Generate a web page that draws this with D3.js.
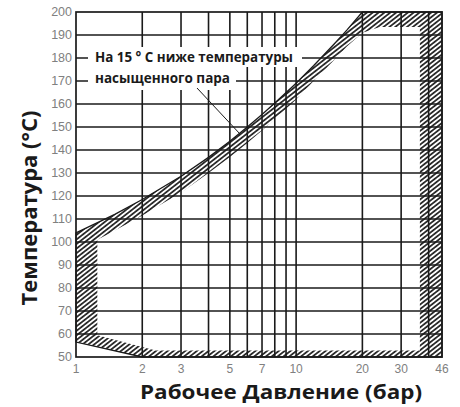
<!DOCTYPE html>
<html>
<head>
<meta charset="utf-8">
<script src="https://cdn.jsdelivr.net/npm/d3@7"></script>
<style>
  body { margin: 0; background: #fff; }
  svg text { font-family: "Liberation Sans", Arial, sans-serif; }
</style>
</head>
<body>
<svg id="chart" width="460" height="407"></svg>
<script>
// data
var xTicks = [1, 2, 3, 5, 7, 10, 20, 30, 46]
var xGrid = [2, 3, 4, 5, 6, 7, 8, 9, 10, 20, 30, 40]
var yTicks = d3.range(50, 201, 10)

// 15 C below saturated steam temperature (upper edge of band)
var curvePressure = [1, 1.5, 2, 3, 4, 5, 6, 7, 8, 10, 12, 15, 17, 20]
var curveTemp = [104, 112, 118.5, 128.6, 136.8, 143.8, 150, 155.4, 160.4, 169, 176.6, 186.4, 192.1, 200]

// inner edge of the hatched band
var innerPressure = [1.25, 1.5, 2, 3, 4, 5, 6, 7, 8, 10, 12, 15, 17, 20, 24]
var innerTemp = [101, 105, 111.5, 121.5, 130, 137, 143, 148.5, 153.5, 162, 170, 179.5, 185, 191, 193.5]

// rest of the working area boundary
var outerRest = [[46, 200], [46, 50], [2, 50], [1, 56.5]]
var innerRest = [[36.5, 193.5], [36.5, 52.8], [2.3, 52.8], [1.25, 59.5]]

var svg = d3.select("#chart")
var x = d3.scaleLog().domain([1, 46]).range([76, 442])
var y = d3.scaleLinear().domain([50, 200]).range([357, 12])
var ink = "#1a1a1a"

var defs = svg.append("defs")
var pat = defs.append("pattern")
    .attr("id", "hatch")
    .attr("patternUnits", "userSpaceOnUse")
    .attr("width", 4)
    .attr("height", 3.6)
    .attr("patternTransform", "rotate(-38)")
pat.append("rect")
    .attr("x", 0).attr("y", 1).attr("width", 4).attr("height", 1.6)
    .attr("fill", "#111")

var line = d3.line().x(function(d) { return x(d[0]) }).y(function(d) { return y(d[1]) })

var outerPts = curvePressure.map(function(p, i) { return [p, curveTemp[i]] }).concat(outerRest)
var innerPts = innerPressure.map(function(p, i) { return [p, innerTemp[i]] }).concat(innerRest)

// hatched band = outer minus inner
svg.append("path")
    .attr("d", line(outerPts) + "Z" + line(innerPts) + "Z")
    .attr("fill", "url(#hatch)")
    .attr("fill-rule", "evenodd")

// grid
svg.selectAll(".hgrid")
  .data(yTicks.slice(1, -1))
  .enter().append("line")
    .attr("x1", 76).attr("x2", 442)
    .attr("y1", function(d) { return y(d) })
    .attr("y2", function(d) { return y(d) })
    .attr("stroke", ink).attr("stroke-width", 1.6)

svg.selectAll(".vgrid")
  .data(xGrid)
  .enter().append("line")
    .attr("y1", 12).attr("y2", 357)
    .attr("x1", function(d) { return x(d) })
    .attr("x2", function(d) { return x(d) })
    .attr("stroke", ink).attr("stroke-width", 1.6)

// band edge
svg.append("path")
    .attr("d", line(outerPts) + "Z")
    .attr("fill", "none")
    .attr("stroke", ink).attr("stroke-width", 1.3)

svg.append("rect")
    .attr("x", 76).attr("y", 12)
    .attr("width", 366).attr("height", 345)
    .attr("fill", "none")
    .attr("stroke", ink).attr("stroke-width", 1.7)

// annotation with white background
svg.append("rect").attr("x", 88).attr("y", 47).attr("width", 214).attr("height", 20).attr("fill", "#fff")
svg.append("rect").attr("x", 88).attr("y", 67).attr("width", 148).attr("height", 23).attr("fill", "#fff")

svg.append("line")
    .attr("x1", 197).attr("y1", 88)
    .attr("x2", 240).attr("y2", 134)
    .attr("stroke", ink).attr("stroke-width", 1)

svg.append("text")
    .attr("x", 95).attr("y", 62)
    .attr("font-size", "14px")
    .attr("font-weight", "bold")
    .attr("textLength", 198)
    .attr("lengthAdjust", "spacingAndGlyphs")
    .style("font-family", "'Open Sans', sans-serif")
    .attr("fill", ink)
    .text("На 15 ° С ниже температуры")

svg.append("text")
    .attr("x", 95).attr("y", 83)
    .attr("font-size", "14px")
    .attr("font-weight", "bold")
    .attr("textLength", 135)
    .attr("lengthAdjust", "spacingAndGlyphs")
    .style("font-family", "'Open Sans', sans-serif")
    .attr("fill", ink)
    .text("насыщенного пара")

// tick labels
svg.selectAll(".ylab")
  .data(yTicks)
  .enter().append("text")
    .attr("x", 72)
    .attr("y", function(d) { return y(d) + 4 })
    .attr("text-anchor", "end")
    .attr("font-size", "12.5px")
    .attr("fill", "#808080")
    .text(function(d) { return d })

svg.selectAll(".xlab")
  .data(xTicks)
  .enter().append("text")
    .attr("x", function(d) { return x(d) })
    .attr("y", 373)
    .attr("text-anchor", "middle")
    .attr("font-size", "12px")
    .attr("fill", "#808080")
    .text(function(d) { return d })

// axis titles
svg.append("text")
    .attr("x", 281).attr("y", 399)
    .attr("text-anchor", "middle")
    .attr("font-size", "20px")
    .attr("font-weight", "bold")
    .attr("textLength", 282)
    .attr("lengthAdjust", "spacingAndGlyphs")
    .style("font-family", "'Open Sans', sans-serif")
    .attr("fill", ink)
    .text("Рабочее Давление (бар)")

svg.append("text")
    .attr("transform", "translate(37,208) rotate(-90)")
    .attr("text-anchor", "middle")
    .attr("font-size", "22px")
    .attr("font-weight", "bold")
    .style("font-family", "'Open Sans', sans-serif")
    .attr("fill", ink)
    .text("Температура (°C)")
</script>
</body>
</html>
